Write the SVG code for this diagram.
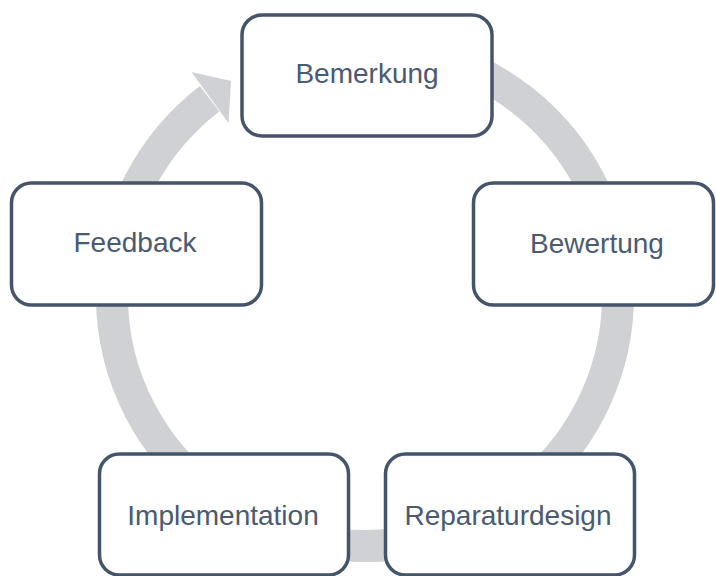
<svg xmlns="http://www.w3.org/2000/svg" width="716" height="576" viewBox="0 0 716 576">
  <style>
    .box { fill: #ffffff; stroke: #44546A; stroke-width: 3.5; }
    .label { font-family: "Liberation Sans", Arial, sans-serif; font-size: 28px; fill: #4A5A70; text-anchor: middle; }
    .cycle { fill: none; stroke: #D0D1D5; stroke-width: 32; }
    .head { fill: #D0D1D5; }
  </style>
  <rect width="716" height="576" fill="#ffffff"/>
  <g id="connectors">
    <path class="cycle" d="M 408.9 49.8 A 253 250 0 1 1 209.6 98.7"/>
    <polygon class="head" points="191.5,72 228.5,123 231,81"/>
  </g>
  <g id="node-bemerkung">
    <rect class="box" x="242" y="15" width="250" height="121" rx="20"/>
    <text class="label" x="367" y="83">Bemerkung</text>
  </g>
  <g id="node-bewertung">
    <rect class="box" x="473.5" y="183" width="240" height="122" rx="20"/>
    <text class="label" x="597" y="253">Bewertung</text>
  </g>
  <g id="node-reparaturdesign">
    <rect class="box" x="385.5" y="454" width="249" height="121" rx="20"/>
    <text class="label" x="508" y="525">Reparaturdesign</text>
  </g>
  <g id="node-implementation">
    <rect class="box" x="99.5" y="454" width="249" height="121" rx="20"/>
    <text class="label" x="223" y="525">Implementation</text>
  </g>
  <g id="node-feedback">
    <rect class="box" x="11.5" y="183" width="250" height="122" rx="20"/>
    <text class="label" x="135" y="252">Feedback</text>
  </g>
</svg>
